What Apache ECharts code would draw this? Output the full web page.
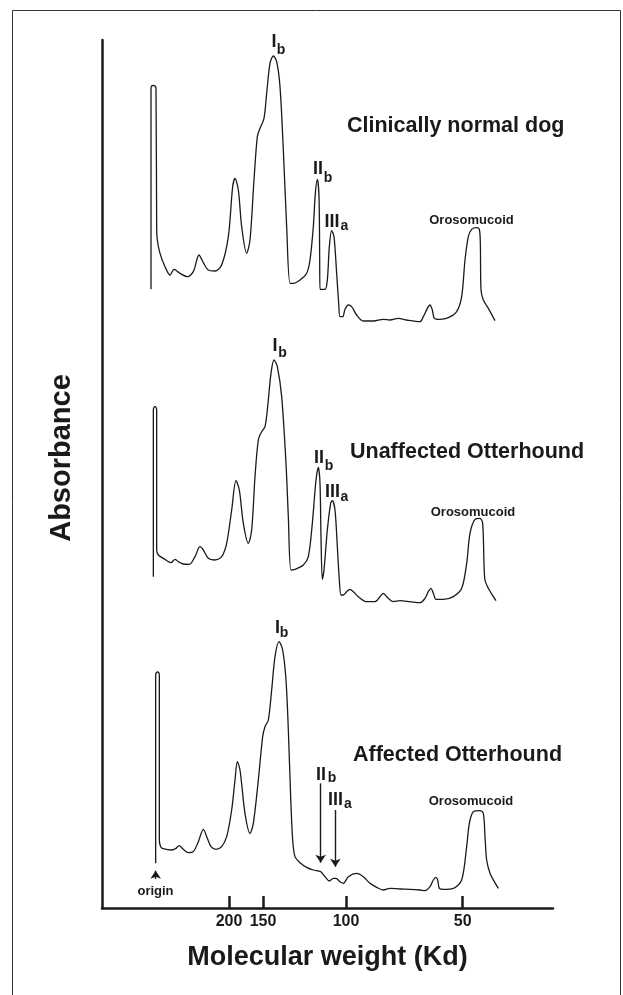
<!DOCTYPE html>
<html>
<head>
<meta charset="utf-8">
<script src="https://cdn.jsdelivr.net/npm/echarts@6/dist/echarts.min.js"></script>
<style>
html,body{margin:0;padding:0;background:#fff;}
#chart{width:623px;height:995px;}
</style>
</head>
<body>
<div id="chart"></div>
<script>
// Migration distance (arbitrary units) vs absorbance (arbitrary units)
var tickPositions = [387, 489, 738, 1088];
var tickLabels = ['200', '150', '100', '50'];

var normalDog = [
[153,252],[153,855],[155,862],[160,864],[165,862],[168,855],[170,440],[172,400],[180,360],[195,320],[210,295],[222,312],[240,300],[262,290],[280,305],[297,355],[310,332],[325,310],[345,307],[365,325],[385,410],[398,560],[405,585],[415,550],[425,440],[440,360],[450,400],[462,580],[472,710],[480,735],[492,765],[500,840],[510,930],[520,952],[530,935],[540,860],[550,670],[560,440],[570,270],[580,270],[600,280],[620,300],[630,340],[640,440],[646,540],[652,582],[657,530],[659,350],[660,252],[675,252],[682,280],[688,380],[695,428],[702,410],[710,300],[716,210],[720,170],[728,170],[735,192],[745,205],[755,200],[770,175],[790,157],[820,157],[850,162],[870,160],[895,165],[920,160],[960,155],[970,170],[982,195],[990,205],[997,190],[1003,165],[1020,162],[1045,167],[1070,185],[1085,230],[1095,340],[1105,410],[1115,432],[1130,437],[1138,432],[1141,390],[1143,250],[1150,220],[1165,195],[1185,158]
];

var unaffected = [
[160,260],[160,760],[162,768],[165,770],[168,768],[170,760],[170,340],[175,325],[190,315],[213,302],[225,312],[235,305],[250,298],[268,297],[285,320],[300,350],[310,340],[325,315],[345,310],[365,320],[380,360],[395,460],[408,548],[418,520],[430,420],[445,360],[455,400],[465,560],[475,670],[485,695],[495,710],[503,770],[513,870],[522,910],[532,890],[545,800],[558,600],[565,440],[573,280],[585,282],[610,295],[625,320],[637,420],[648,550],[655,588],[660,540],[663,380],[667,252],[672,280],[682,400],[692,480],[697,488],[705,460],[712,350],[718,250],[723,205],[730,205],[740,215],[750,222],[760,215],[775,200],[800,185],[825,185],[840,200],[850,210],[860,200],[880,185],[900,188],[930,185],[960,182],[975,195],[985,215],[993,225],[1000,210],[1008,192],[1030,192],[1060,200],[1085,225],[1100,300],[1110,390],[1125,432],[1140,435],[1148,420],[1152,300],[1155,250],[1165,225],[1180,200],[1188,188]
];

var affected = [
[167,150],[167,715],[169,722],[173,724],[176,722],[178,715],[178,220],[182,200],[190,194],[215,190],[228,195],[237,203],[250,192],[265,182],[280,185],[295,215],[310,252],[322,225],[333,200],[348,192],[365,200],[380,230],[395,310],[405,400],[412,455],[420,430],[435,300],[450,240],[460,270],[475,400],[488,530],[495,560],[505,580],[515,670],[525,770],[537,815],[548,790],[558,700],[565,550],[572,350],[578,220],[585,170],[600,152],[620,138],[640,130],[662,125],[675,110],[688,97],[700,105],[708,105],[720,95],[730,90],[745,110],[770,120],[790,110],[810,90],[830,78],[850,70],[870,75],[900,73],[930,72],[960,70],[975,68],[990,80],[1000,100],[1008,108],[1013,100],[1018,75],[1030,72],[1060,75],[1085,100],[1100,200],[1108,270],[1120,305],[1140,308],[1150,300],[1155,230],[1160,160],[1170,120],[1183,95],[1195,75]
];

// arrows on the affected trace: [x, yFrom, yTo]
var arrowIIb = [662, 390, 152];
var arrowIIIa = [706, 310, 140];
var arrowOrigin = [167, 103, 128];

var INK = '#1a1a1a';
var FONT = '"Liberation Sans", Arial, Helvetica, sans-serif';

var chart = echarts.init(document.getElementById('chart'), null, {renderer: 'canvas'});

function traceGrid(top) {
  return {left: 102, width: 451, top: top, height: 333.333, containLabel: false};
}
function hiddenX(gi) {
  return {type: 'value', gridIndex: gi, min: 6, max: 1359, show: false};
}
function hiddenY(gi) {
  return {type: 'value', gridIndex: gi, min: 0, max: 1000, show: false};
}
function trace(data, gi, extra) {
  var s = {
    type: 'line', xAxisIndex: gi, yAxisIndex: gi, data: data,
    showSymbol: false, symbol: 'none', smooth: 0.3, clip: false,
    lineStyle: {color: INK, width: 1.3}, silent: true
  };
  if (extra) for (var k in extra) s[k] = extra[k];
  return s;
}
function txt(x, y, text, size, align) {
  return {type: 'text', x: x, y: y, silent: true,
    style: {text: text, fill: INK, font: 'bold ' + size + 'px ' + FONT,
      align: align || 'center', verticalAlign: 'middle'}};
}

var graphics = [
  {type: 'rect', silent: true, shape: {x: 12.5, y: 10.5, width: 608, height: 1000},
   style: {fill: 'none', stroke: '#333', lineWidth: 1}},
  {type: 'text', x: 62, y: 458, rotation: Math.PI / 2, silent: true,
   style: {text: 'Absorbance', fill: INK, font: 'bold 29px ' + FONT, align: 'center', verticalAlign: 'middle'}},
  // trace titles
  txt(347, 126, 'Clinically normal dog', 21.5, 'left'),
  txt(350, 452, 'Unaffected Otterhound', 21.5, 'left'),
  txt(353, 755, 'Affected Otterhound', 21.5, 'left'),
  // trace 1 peaks
  txt(274, 42, 'I', 18), txt(281, 50, 'b', 14),
  txt(318, 169, 'II', 18), txt(328, 178, 'b', 14),
  txt(332, 222, 'III', 18), txt(344.5, 226, 'a', 14),
  txt(471.5, 220.5, 'Orosomucoid', 13),
  // trace 2 peaks
  txt(275, 346, 'I', 18), txt(282.5, 353, 'b', 14),
  txt(319, 458, 'II', 18), txt(329, 466, 'b', 14),
  txt(332.5, 492, 'III', 18), txt(344.5, 497, 'a', 14),
  txt(473, 512.5, 'Orosomucoid', 13),
  // trace 3 peaks
  txt(277.5, 628, 'I', 18), txt(284, 633, 'b', 14),
  txt(321, 775, 'II', 18), txt(332, 778, 'b', 14),
  txt(335.5, 800, 'III', 18), txt(348, 804, 'a', 14),
  txt(471, 801, 'Orosomucoid', 13),
  txt(155.5, 891, 'origin', 13)
];

function arrow(a) {
  return [{coord: [a[0], a[1]]}, {coord: [a[0], a[2]]}];
}

var option = {
  animation: false,
  backgroundColor: '#ffffff',
  grid: [
    {left: 102, width: 451, top: 40, height: 868, containLabel: false},
    traceGrid(40), traceGrid(330), traceGrid(580)
  ],
  xAxis: [
    {
      type: 'value', gridIndex: 0, min: 6, max: 1359,
      name: 'Molecular weight (Kd)', nameLocation: 'middle', nameGap: 36,
      nameTextStyle: {color: INK, fontFamily: FONT, fontWeight: 'bold', fontSize: 27},
      axisLine: {show: true, onZero: false, lineStyle: {color: INK, width: 2.5}},
      axisTick: {show: true, inside: true, length: 12, customValues: tickPositions,
        lineStyle: {color: INK, width: 2.5}},
      axisLabel: {show: true, customValues: tickPositions, margin: 6,
        color: INK, fontFamily: FONT, fontWeight: 'bold', fontSize: 16,
        formatter: function (v) {
          var i = tickPositions.indexOf(v);
          return i >= 0 ? tickLabels[i] : '';
        }},
      splitLine: {show: false}
    },
    hiddenX(1), hiddenX(2), hiddenX(3)
  ],
  yAxis: [
    {
      type: 'value', gridIndex: 0, min: 0, max: 1,
      axisLine: {show: true, onZero: false, lineStyle: {color: INK, width: 2.5}},
      axisTick: {show: false}, axisLabel: {show: false}, splitLine: {show: false}
    },
    hiddenY(1), hiddenY(2), hiddenY(3)
  ],
  series: [
    trace(normalDog, 1),
    trace(unaffected, 2),
    trace(affected, 3, {
      markLine: {
        silent: true, animation: false,
        symbol: ['none', 'arrow'], symbolSize: 8,
        label: {show: false},
        lineStyle: {color: INK, width: 1.4, type: 'solid'},
        emphasis: {disabled: true},
        data: [arrow(arrowIIb), arrow(arrowIIIa), arrow(arrowOrigin)]
      }
    })
  ],
  graphic: graphics
};
chart.setOption(option);
</script>
</body>
</html>
